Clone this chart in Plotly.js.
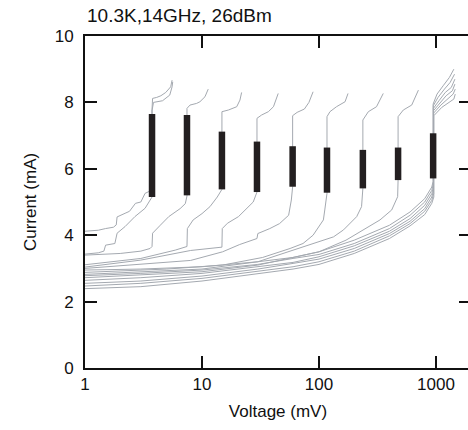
<!DOCTYPE html>
<html><head><meta charset="utf-8">
<script src="https://cdn.plot.ly/plotly-3.0.1.min.js"></script>
<style>html,body{margin:0;padding:0;overflow:hidden;background:#fff}#chart{width:474px;height:430px}</style>
</head><body><div id="chart"></div><script>
// Step (Shapiro-like) voltages and black bar extents
const stepV    = [3.74, 7.44, 14.8, 29.5, 59.5, 117, 237, 474, 945];
const stepIlow = [5.15, 5.2, 5.38, 5.3, 5.46, 5.28, 5.41, 5.66, 5.71];
const stepIhigh= [7.65, 7.62, 7.12, 6.82, 6.68, 6.64, 6.57, 6.64, 7.07];

// Gray I-V curves (V in mV, I in mA)
const s1aV = [1, 1.3, 1.5, 1.75, 1.85, 1.88, 2.2, 2.4, 2.7, 3.0, 3.26, 3.5, 3.74, 3.74, 3.78, 4.1, 4.45, 4.9, 5.4, 5.55];
const s1aI = [4.12, 4.15, 4.2, 4.24, 4.31, 4.55, 4.66, 4.72, 4.96, 5.0, 5.26, 5.32, 5.36, 7.78, 8.12, 8.15, 8.2, 8.3, 8.47, 8.67];
const s1bV = [1, 1.3, 1.45, 1.5, 1.8, 1.88, 2.2, 2.67, 3.26, 3.6, 3.74, 3.74, 3.85, 4.6, 5.3, 5.55, 5.62];
const s1bI = [3.43, 3.47, 3.52, 3.7, 3.75, 4.06, 4.26, 4.56, 4.81, 5.06, 5.15, 7.75, 8.0, 8.05, 8.22, 8.47, 8.62];
const s2V  = [1, 2, 3.0, 3.6, 3.74, 3.78, 4.4, 5.2, 6.5, 7.2, 7.44, 7.44, 7.9, 9.0, 9.6, 10.6, 11.3];
const s2I  = [3.40, 3.45, 3.52, 3.6, 3.66, 4.06, 4.3, 4.56, 4.8, 4.95, 5.18, 7.82, 7.92, 7.97, 8.02, 8.17, 8.4];
const s3V  = [1, 3, 5.9, 7.0, 7.44, 7.5, 8.4, 10, 11.7, 13.5, 14.8, 14.8, 16.8, 19.8, 21.1, 21.8];
const s3I  = [3.11, 3.3, 3.55, 3.62, 3.66, 4.2, 4.46, 4.65, 4.86, 5.15, 5.38, 7.72, 7.77, 7.87, 8.07, 8.3];
const s4V  = [1, 3, 8, 12, 14.8, 14.9, 16.5, 20.5, 27.4, 29.5, 29.5, 32.3, 36.9, 40.8, 44.8];
const s4I  = [3.04, 3.25, 3.54, 3.6, 3.64, 4.2, 4.36, 4.56, 5.0, 5.3, 7.52, 7.62, 7.72, 7.87, 8.27];
const s5V  = [1, 4, 8, 15, 21, 29.5, 30, 38, 46, 55, 58, 59.5, 59.5, 65, 75, 82, 89];
const s5I  = [3.0, 3.15, 3.24, 3.5, 3.72, 3.9, 4.05, 4.2, 4.35, 4.6, 5.06, 5.46, 7.6, 7.7, 7.8, 8.0, 8.32];
const s6V  = [1, 5, 15, 33, 56.6, 73, 89, 102, 109, 112, 117, 117, 124, 141, 167, 177];
const s6I  = [2.88, 2.98, 3.1, 3.33, 3.6, 3.75, 4.0, 4.3, 4.46, 4.76, 5.26, 7.57, 7.72, 7.87, 8.02, 8.27];
const s7V  = [1, 10, 30, 50, 102, 133, 162, 210, 231, 237, 237, 264, 310, 354];
const s7I  = [2.82, 2.98, 3.2, 3.45, 3.8, 3.95, 4.16, 4.56, 4.86, 5.41, 7.47, 7.72, 7.87, 8.27];
const s8V  = [1, 10, 30, 100, 170, 238, 332, 418, 470, 474, 474, 525, 620, 707];
const s8I  = [2.72, 2.9, 3.1, 3.5, 3.85, 4.16, 4.46, 4.76, 5.16, 5.66, 7.57, 7.77, 7.92, 8.37];

// Bundle of curves switching at the last step
const b1V = [1, 3, 10, 30, 60, 100, 200, 400, 600, 800, 920, 945, 945, 1020, 1150, 1300, 1420];
const b1I = [2.95, 2.98, 3.05, 3.2, 3.33, 3.5, 3.85, 4.3, 4.7, 5.1, 5.45, 5.62, 7.95, 8.25, 8.5, 8.75, 9.0];
const b2V = [1, 3, 10, 30, 60, 100, 200, 400, 600, 800, 920, 948, 948, 1040, 1180, 1320, 1440];
const b2I = [2.78, 2.85, 2.95, 3.12, 3.3, 3.42, 3.75, 4.2, 4.6, 5.0, 5.35, 5.55, 7.9, 8.15, 8.4, 8.6, 8.85];
const b3V = [1, 3, 10, 30, 60, 100, 200, 400, 600, 800, 920, 950, 950, 1060, 1200, 1350, 1450];
const b3I = [2.64, 2.72, 2.85, 3.05, 3.18, 3.35, 3.68, 4.12, 4.5, 4.9, 5.25, 5.45, 7.82, 8.05, 8.3, 8.45, 8.7];
const b4V = [1, 3, 10, 30, 60, 100, 200, 400, 600, 800, 920, 952, 952, 1080, 1220, 1380, 1450];
const b4I = [2.55, 2.62, 2.77, 2.98, 3.15, 3.28, 3.6, 4.05, 4.42, 4.8, 5.15, 5.35, 7.75, 7.98, 8.2, 8.35, 8.55];
const b5V = [1, 3, 10, 30, 60, 100, 200, 400, 600, 800, 920, 955, 955, 1100, 1250, 1400, 1460];
const b5I = [2.47, 2.55, 2.7, 2.92, 3.05, 3.2, 3.52, 3.98, 4.35, 4.72, 5.05, 5.25, 7.68, 7.92, 8.1, 8.25, 8.4];
const b6V = [1, 3, 10, 30, 60, 100, 200, 400, 600, 800, 920, 958, 958, 1120, 1280, 1420, 1460];
const b6I = [2.39, 2.45, 2.62, 2.85, 2.98, 3.12, 3.45, 3.9, 4.28, 4.62, 4.96, 5.15, 7.6, 7.85, 8.0, 8.1, 8.25];

const xTickVals = [1, 10, 100, 1000];
const xTickText = ['1', '10', '100', '1000'];
const yTickVals = [0, 2, 4, 6, 8, 10];

const gray = '#a4a9b0';
const curves = [
  [s1aV, s1aI], [s1bV, s1bI], [s2V, s2I], [s3V, s3I], [s4V, s4I],
  [s5V, s5I], [s6V, s6I], [s7V, s7I], [s8V, s8I],
  [b1V, b1I], [b2V, b2I], [b3V, b3I], [b4V, b4I], [b5V, b5I], [b6V, b6I]
];
const traces = curves.map(c => ({
  x: c[0], y: c[1], type: 'scatter', mode: 'lines',
  line: {color: gray, width: 1}, hoverinfo: 'skip', showlegend: false
}));

const barX = [], barY = [];
stepV.forEach((v, i) => { barX.push(v, v, null); barY.push(stepIlow[i], stepIhigh[i], null); });
traces.push({x: barX, y: barY, type: 'scatter', mode: 'lines',
  line: {color: '#231f20', width: 6.5}, hoverinfo: 'skip', showlegend: false});

const font = 'Liberation Sans, Arial, sans-serif';
const layout = {
  width: 474, height: 430,
  margin: {l: 85, r: 3, t: 36, b: 62},
  paper_bgcolor: '#fff', plot_bgcolor: '#fff',
  font: {family: font, size: 17, color: '#111'},
  title: {text: '10.3K,14GHz, 26dBm', font: {family: font, size: 19, color: '#111'},
          xref: 'container', yref: 'container', x: 87/474, xanchor: 'left', y: 1 - 15/430, yanchor: 'middle'},
  xaxis: {type: 'log', range: [0, 3.299], tickvals: xTickVals, ticktext: xTickText,
    showline: true, linewidth: 2, linecolor: '#111', mirror: 'ticks',
    ticks: 'inside', ticklen: 12, tickwidth: 2, tickcolor: '#111',
    showgrid: false, zeroline: false, tickfont: {size: 17},
    title: {text: 'Voltage (mV)', font: {size: 17}, standoff: 12}},
  yaxis: {range: [0, 10], tickvals: yTickVals,
    showline: true, linewidth: 2, linecolor: '#111', mirror: 'ticks',
    ticks: 'inside', ticklen: 12, tickwidth: 2, tickcolor: '#111',
    showgrid: false, zeroline: false, tickfont: {size: 17}, ticklabelstandoff: 6,
    title: {text: 'Current (mA)', font: {size: 17}, standoff: 14}}
};
Plotly.newPlot('chart', traces, layout, {staticPlot: true, displayModeBar: false});
</script></body></html>
